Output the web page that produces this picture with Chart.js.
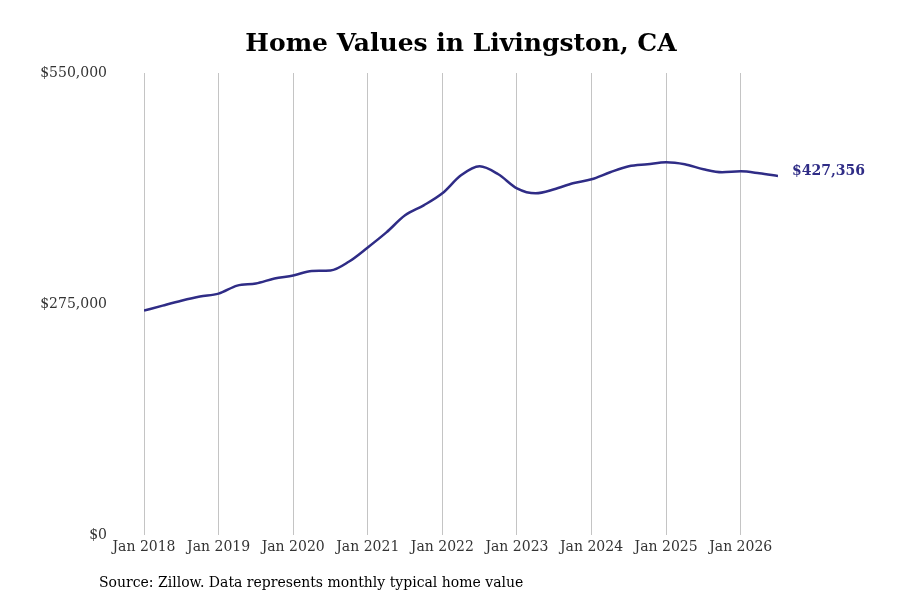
<!DOCTYPE html>
<html>
  <head>
    <title>Home Values in Livingston, CA</title>
    <script src="https://cdn.jsdelivr.net/npm/chart.js"></script>
    <style>
      html, body {
        margin: 0;
        padding: 0;
        background: #ffffff;
      }
      .chart-container {
        width: 900px;
        height: 600px;
      }
    </style>
  </head>
  <body>
    <div class="chart-container">
      <canvas id="myChart"></canvas>
    </div>

    <script>
      // months since Jan 2018 (quarterly readings)
      const months = [
        0, 3, 6, 9, 12, 15, 18, 21, 24, 27, 30, 33, 36, 39, 42, 45, 48, 51,
        54, 57, 60, 63, 66, 69, 72, 75, 78, 81, 84, 87, 90, 93, 96, 99, 102
      ];
      const homeValues = [
        267200, 273200, 279000, 284000, 287500, 297000, 299500, 305400,
        309000, 314400, 315000, 325700, 342400, 360300, 380600, 392500,
        406800, 428300, 439000, 429500, 412800, 406800, 411600, 418800,
        423500, 431900, 439000, 441400, 443800, 441400, 435500, 431900,
        433000, 430700, 427356
      ];
      const yearLabels = [
        "Jan 2018", "Jan 2019", "Jan 2020", "Jan 2021", "Jan 2022",
        "Jan 2023", "Jan 2024", "Jan 2025", "Jan 2026"
      ];
      const yTicks = [0, 275000, 550000];

      const lineColor = "#2f2c86";
      const fontFamily = "'DejaVu Serif', serif";

      const fmt = (v) => "$" + v.toLocaleString("en-US");

      const extras = {
        id: "extras",
        afterDraw(chart) {
          const ctx = chart.ctx;
          const area = chart.chartArea;
          ctx.save();
          // title
          ctx.fillStyle = "#000000";
          ctx.font = "bold 25px " + fontFamily;
          ctx.textAlign = "center";
          ctx.textBaseline = "middle";
          ctx.fillText("Home Values in Livingston, CA", (area.left + area.right) / 2, 44);
          // source
          ctx.font = "14px " + fontFamily;
          ctx.textAlign = "left";
          ctx.fillText("Source: Zillow. Data represents monthly typical home value", 99, 583);
          // end value label
          const meta = chart.getDatasetMeta(0);
          const last = meta.data[meta.data.length - 1];
          ctx.fillStyle = lineColor;
          ctx.font = "bold 14px " + fontFamily;
          ctx.fillText(fmt(homeValues[homeValues.length - 1]), last.x + 14, last.y - 5);
          ctx.restore();
        },
      };

      const ctx = document.getElementById("myChart").getContext("2d");
      new Chart(ctx, {
        type: "line",
        data: {
          datasets: [
            {
              data: months.map((m, i) => ({ x: m, y: homeValues[i] })),
              borderColor: lineColor,
              borderWidth: 2.5,
              pointRadius: 0,
              tension: 0.4,
              cubicInterpolationMode: "monotone",
              fill: false,
            },
          ],
        },
        options: {
          responsive: true,
          maintainAspectRatio: false,
          animation: false,
          layout: {
            padding: { top: 73, right: 122, bottom: 40, left: 30 },
          },
          plugins: {
            legend: { display: false },
            tooltip: { enabled: false },
          },
          scales: {
            x: {
              type: "linear",
              min: 0,
              max: 102,
              afterBuildTicks(scale) {
                scale.ticks = yearLabels.map((_, i) => ({ value: i * 12 }));
              },
              ticks: {
                callback: (v) => yearLabels[v / 12],
                color: "#333333",
                font: { family: fontFamily, size: 14 },
                padding: 4,
                maxRotation: 0,
              },
              grid: {
                color: "#c4c4c4",
                drawTicks: false,
              },
              border: { display: false },
            },
            y: {
              min: 0,
              max: 550000,
              afterBuildTicks(scale) {
                scale.ticks = yTicks.map((v) => ({ value: v }));
              },
              afterFit(scale) {
                scale.width = 114;
              },
              ticks: {
                callback: (v) => fmt(v),
                color: "#333333",
                font: { family: fontFamily, size: 14 },
                padding: 29,
              },
              grid: { display: false },
              border: { display: false },
            },
          },
        },
        plugins: [extras],
      });
    </script>
  </body>
</html>
